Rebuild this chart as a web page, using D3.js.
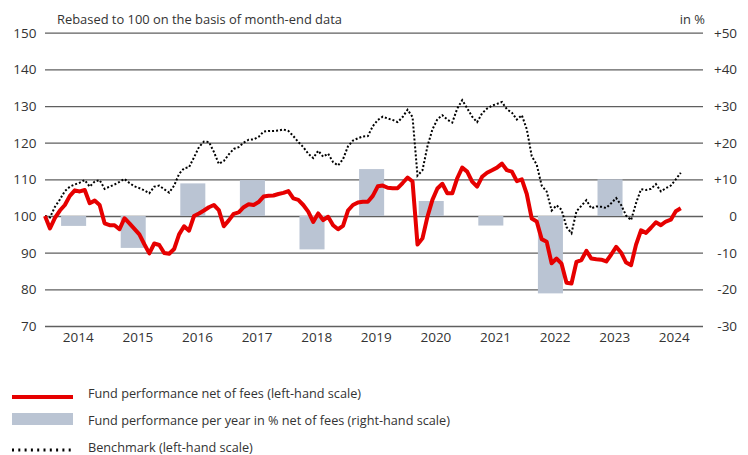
<!DOCTYPE html>
<html>
<head>
<meta charset="utf-8">
<script src="https://cdn.jsdelivr.net/npm/d3@7"></script>
<style>
  html, body { margin: 0; padding: 0; background: #fff; }
  svg { display: block; font-family: "Open Sans", "Noto Sans", sans-serif; }
</style>
</head>
<body>
<svg id="chart" width="748" height="455"></svg>
<script>
// ---------- DATA ----------
// Month-end index values, start ≈ end of 2013, rebased to 100
const startYear = 2013.95;
const fundValues = [
  100, 96.6, 99.5, 101.5, 103, 105.5, 107, 106.7, 107.1, 103.5, 104.2, 103,
  98, 97.5, 97.5, 96.4, 99.4, 98, 96.5, 95, 92.3, 89.8, 92.5, 92.1,
  89.9, 89.7, 91, 95, 97.2, 96, 100, 100.7, 101.5, 102.4, 103, 101.6,
  97.2, 98.8, 100.6, 101, 102.4, 103.2, 103, 103.8, 105.3, 105.5, 105.6, 106,
  106.3, 106.8, 104.8, 104.4, 103, 101.2, 98.4, 100.7, 98.9, 99.8, 97.5, 96.4,
  97.3, 101.5, 103, 103.7, 103.9, 103.9, 105.5, 108.1, 108.3, 107.7, 107.6, 107.6,
  109, 110.5, 109.4, 92.2, 93.9, 99.8, 104.4, 107.5, 108.8, 106.2, 106.2, 110.3,
  113.2, 112.1, 109.4, 108, 110.7, 111.8, 112.5, 113.2, 114.3, 112.5, 112.1, 109.5,
  110, 106, 99.3, 98.5, 93.7, 93, 87.1, 88.4, 87, 81.8, 81.6, 87.5,
  88, 90.5, 88.4, 88.2, 88.1, 87.6, 89.5, 91.6, 90, 87.3, 86.6, 92.2,
  96.1, 95.4, 96.8, 98.3, 97.5, 98.5, 99, 101.3, 102.1
];
const benchmarkValues = [
  100, 99.6, 102.5, 104.5, 106.8, 108, 108.6, 109.1, 109.8, 108, 109.4, 109.8,
  107.4, 108, 108.6, 109.3, 110.1, 109, 108.1, 107.6, 107, 106.2, 108, 108.3,
  107.3, 106.4, 108.3, 111.5, 113, 113.3, 116, 118.8, 120.3, 120.2, 117.5, 114.2,
  115, 116.8, 118.3, 118.8, 120, 120.8, 120.9, 121.6, 123, 123.2, 123.2, 123.3,
  123.6, 123.2, 121.8, 120.2, 118.8, 117, 115.8, 117.8, 116.2, 117, 114.7, 113.8,
  115.5, 119, 120.6, 121.2, 121.7, 121.8, 124.5, 126.2, 127.1, 126.6, 126.2, 125.6,
  127, 129, 127, 111, 112.5, 119, 123.6, 126.4, 127.5, 126.3, 125.5, 129.3,
  131.6, 129.4, 127.1, 125.6, 128, 129.3, 130.1, 130.6, 131.1, 129.1, 128.2, 126.3,
  127.5, 123.7, 116.3, 114, 108.3, 106.7, 101.5, 102.9, 101.7, 97, 95.3, 101.3,
  102.8, 104.3, 102.1, 102.6, 102.5, 102.2, 103.5, 104.9, 103, 100.1, 98.9, 103.5,
  107.3, 107.1, 107.4, 108.7, 106.7, 107.6, 108.3, 110, 111.8
];
const barYears = [2014, 2015, 2016, 2017, 2018, 2019, 2020, 2021, 2022, 2023];
const barReturns = [-2.7, -8.7, 8.9, 9.8, -9.1, 12.8, 4.1, -2.6, -21.1, 10.0];
const xLabels = [2014, 2015, 2016, 2017, 2018, 2019, 2020, 2021, 2022, 2023, 2024];
const leftTicks = [70, 80, 90, 100, 110, 120, 130, 140, 150];
const rightTicks = [-30, -20, -10, 0, 10, 20, 30, 40, 50];
const legendLabels = [
  "Fund performance net of fees (left-hand scale)",
  "Fund performance per year in % net of fees (right-hand scale)",
  "Benchmark (left-hand scale)"
];

// ---------- LAYOUT ----------
const svg = d3.select("#chart");
const plotL = 45, plotR = 703.6, plotT = 32.7, plotB = 326;
const RED = "#e60000", BAR = "#bac4d3", GRID = "#5f5f5f", TXT = "#333";

const x = d3.scaleLinear().domain([startYear, 2025]).range([plotL, plotR]);
const yL = d3.scaleLinear().domain([70, 150]).range([plotB, plotT]);
const yR = d3.scaleLinear().domain([-30, 50]).range([plotB, plotT]);
const tOf = i => startYear + i / 12;

// header texts
svg.append("text").attr("x", 57).attr("y", 24).attr("font-size", 12.9)
  .attr("fill", TXT).text("Rebased to 100 on the basis of month-end data");
svg.append("text").attr("x", 705).attr("y", 24).attr("font-size", 12.9)
  .attr("text-anchor", "end").attr("fill", TXT).text("in %");

// grid + left axis
const gL = svg.append("g").attr("transform", `translate(${plotL},0)`)
  .call(d3.axisLeft(yL).tickValues(leftTicks).tickSize(-(plotR - plotL - 0.6)).tickPadding(8.5));
gL.select(".domain").remove();
gL.selectAll(".tick line").attr("stroke", GRID).attr("stroke-width", 1.3);
gL.selectAll(".tick text").attr("font-size", 13.5).attr("fill", TXT)
  .attr("font-family", "'Open Sans', sans-serif");

// right axis
const gR = svg.append("g").attr("transform", `translate(${plotR},0)`)
  .call(d3.axisRight(yR).tickValues(rightTicks).tickSize(0)
    .tickFormat(d => d > 0 ? "+" + d : (d < 0 ? "-" + Math.abs(d) : "0")));
gR.select(".domain").remove();
gR.selectAll(".tick text").attr("font-size", 13.5).attr("fill", TXT)
  .attr("text-anchor", "end").attr("x", 33.5)
  .attr("font-family", "'Open Sans', sans-serif");

// bottom labels
const gB = svg.append("g").attr("transform", `translate(0,${plotB})`)
  .call(d3.axisBottom(x).tickValues(xLabels.map(y => y + 0.5)).tickSize(0).tickPadding(6)
    .tickFormat(d => String(Math.round(d - 0.5))));
gB.select(".domain").remove();
gB.selectAll(".tick text").attr("font-size", 13.5).attr("fill", TXT)
  .attr("font-family", "'Open Sans', sans-serif");

// bars (right scale)
svg.append("g").selectAll("rect").data(barYears).join("rect")
  .attr("x", (d) => x(d + 0.22))
  .attr("width", (d) => x(d + 0.64) - x(d + 0.22))
  .attr("y", (d, i) => yR(Math.max(0, barReturns[i])))
  .attr("height", (d, i) => Math.abs(yR(barReturns[i]) - yR(0)))
  .attr("fill", BAR);

// benchmark dotted line
const line = d3.line().x((d, i) => x(tOf(i))).y(d => yL(d)).curve(d3.curveLinear);
svg.append("path").datum(benchmarkValues).attr("d", line)
  .attr("fill", "none").attr("stroke", "#000").attr("stroke-width", 2)
  .attr("stroke-dasharray", "2,2");

// fund line
svg.append("path").datum(fundValues).attr("d", line)
  .attr("fill", "none").attr("stroke", RED).attr("stroke-width", 4)
  .attr("stroke-linejoin", "round").attr("stroke-linecap", "butt");

// legend
const lg = svg.append("g");
lg.append("line").attr("x1", 12).attr("x2", 73).attr("y1", 397).attr("y2", 397)
  .attr("stroke", RED).attr("stroke-width", 4);
lg.append("rect").attr("x", 12).attr("y", 413).attr("width", 61).attr("height", 12)
  .attr("fill", BAR);
lg.append("line").attr("x1", 12).attr("x2", 71).attr("y1", 450).attr("y2", 450)
  .attr("stroke", "#000").attr("stroke-width", 3).attr("stroke-dasharray", "2,4.3");
const legendY = [398, 425, 452];
lg.selectAll("text.lbl").data(legendLabels).join("text")
  .attr("class", "lbl").attr("x", 88).attr("y", (d, i) => legendY[i])
  .attr("font-size", 12.7).attr("fill", TXT).text(d => d);
</script>
</body>
</html>
